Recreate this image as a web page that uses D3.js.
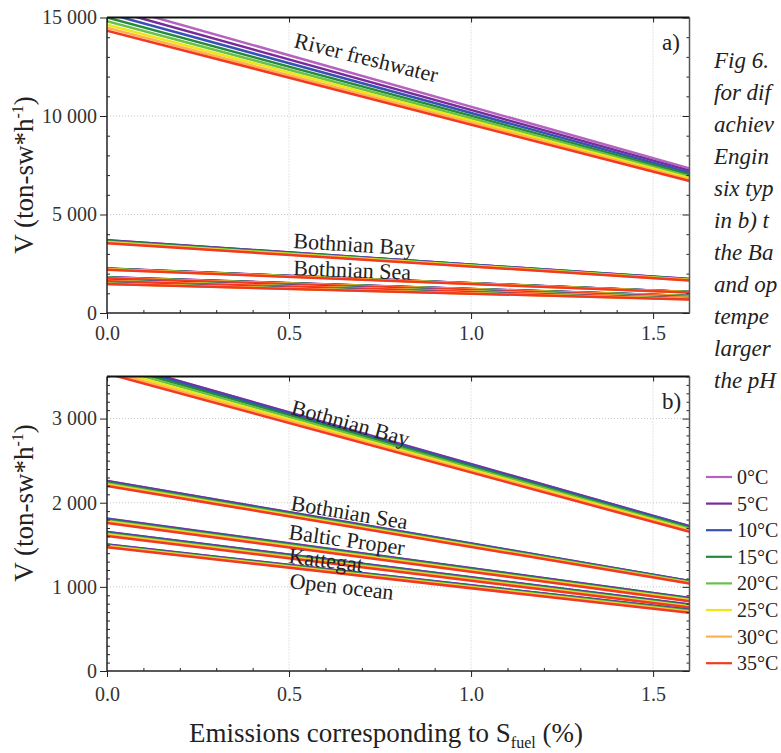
<!DOCTYPE html>
<html>
<head>
<meta charset="utf-8">
<script src="https://cdn.jsdelivr.net/npm/d3@7"></script>
<style>
  html, body { margin: 0; padding: 0; background: #fff; overflow: hidden; }
  svg { display: block; }
  svg text { font-family: "Liberation Serif", "DejaVu Serif", "Times New Roman", serif; }
</style>
</head>
<body>
<svg id="chart" width="781" height="753"></svg>
<script>
// S_fuel (%) at the two ends of every line
const sfuel = [0, 1.6];

const temps = ['0°C', '5°C', '10°C', '15°C', '20°C', '25°C', '30°C', '35°C'];
const tempColors = ['#b463bf', '#782b9b', '#3752b4', '#258a3c', '#69c148', '#eee619', '#ffb14c', '#f23a22'];

// V (ton-sw*h-1) at S_fuel = 0 and 1.6, one pair per temperature (0 -> 35 °C)
const riverFreshwater = [[15690, 7340], [15440, 7225], [15210, 7120], [15000, 7020], [14815, 6930], [14640, 6850], [14480, 6770], [14330, 6700]];
const bothnianBay     = [[3690, 1722], [3688, 1721], [3672, 1714], [3650, 1703], [3622, 1690], [3592, 1677], [3562, 1665], [3535, 1654]];
const bothnianSea     = [[2259, 1071], [2258, 1070], [2250, 1066], [2240, 1061], [2229, 1056], [2218, 1050], [2208, 1045], [2200, 1040]];
const balticProper    = [[1812, 869], [1811, 868], [1804, 863], [1795, 857], [1786, 850], [1777, 843], [1768, 836], [1760, 830]];
const kattegat        = [[1653, 791], [1652, 790], [1646, 785], [1638, 780], [1630, 774], [1622, 767], [1614, 761], [1606, 755]];
const openOcean       = [[1504, 728], [1503, 727], [1498, 723], [1493, 718], [1488, 712], [1482, 705], [1476, 698], [1471, 691]];

const xTicks = [0, 0.5, 1.0, 1.5];
const topYTicks = [0, 5000, 10000, 15000];
const bottomYTicks = [0, 1000, 2000, 3000];

// the figure caption, as much of it as shows at the right edge
const captionLines = ['Fig 6.', 'for dif', 'achiev', 'Engin', 'six typ', 'in b) t', 'the Ba', 'and op', 'tempe', 'larger', 'the pH'];

// ---------------------------------------------------------------

const svg = d3.select('#chart');
const x = d3.scaleLinear().domain([0, 1.6]).range([107, 689.5]);
const fmt = d3.formatLocale({ decimal: '.', thousands: ' ', grouping: [3], currency: ['', ''] }).format(',');

const panels = [
  {
    key: 'a', yMax: 15000, top: 17.5, bottom: 313, yTicks: topYTicks, yMinorStep: 1000, xPad: 13,
    series: [riverFreshwater, bothnianBay, bothnianSea, balticProper, kattegat, openOcean],
    labels: [
      { text: 'River freshwater', x: 293, y: 47, rot: 14 },
      { text: 'Bothnian Bay', x: 293, y: 248, rot: 3.5 },
      { text: 'Bothnian Sea', x: 293, y: 275, rot: 2.3 }
    ],
    titleY: 175
  },
  {
    key: 'b', yMax: 3500, top: 376.5, bottom: 671, yTicks: bottomYTicks, yMinorStep: 100, xPad: 16,
    series: [bothnianBay, bothnianSea, balticProper, kattegat, openOcean],
    labels: [
      { text: 'Bothnian Bay', x: 290, y: 414, rot: 15.5 },
      { text: 'Bothnian Sea', x: 290, y: 510, rot: 9.5 },
      { text: 'Baltic Proper', x: 288, y: 539, rot: 8 },
      { text: 'Kattegat', x: 288, y: 563, rot: 7 },
      { text: 'Open ocean', x: 289, y: 588, rot: 6.5 }
    ],
    titleY: 503
  }
];

panels.forEach(drawPanel);

function drawPanel(p) {
  const y = d3.scaleLinear().domain([0, p.yMax]).range([p.bottom, p.top]);
  const g = svg.append('g');
  const [x0, x1] = x.range();

  // dotted grid
  g.append('g').selectAll('line')
    .data(xTicks.filter(v => v > 0))
    .join('line')
    .attr('x1', d => x(d)).attr('x2', d => x(d))
    .attr('y1', p.top).attr('y2', p.bottom)
    .attr('stroke', '#c8c8c8').attr('stroke-width', 1).attr('stroke-dasharray', '1,2');

  g.append('g').selectAll('line')
    .data(p.yTicks.filter(v => v > 0 && v < p.yMax))
    .join('line')
    .attr('x1', x0).attr('x2', x1)
    .attr('y1', d => y(d)).attr('y2', d => y(d))
    .attr('stroke', '#c8c8c8').attr('stroke-width', 1).attr('stroke-dasharray', '1,2');

  // lines, clipped to the plot area
  const clipId = 'clip-' + p.key;
  svg.append('clipPath').attr('id', clipId)
    .append('rect').attr('x', x0).attr('y', p.top).attr('width', x1 - x0).attr('height', p.bottom - p.top);

  const line = d3.line().x((d, i) => x(sfuel[i])).y(d => y(d));
  const lines = g.append('g').attr('clip-path', `url(#${clipId})`);
  p.series.forEach(values => {
    lines.append('g').selectAll('path')
      .data(values)
      .join('path')
      .attr('d', d => line(d))
      .attr('fill', 'none')
      .attr('stroke', (d, i) => tempColors[i])
      .attr('stroke-width', 2.5);
  });

  // axes
  const yMinor = d3.range(0, p.yMax + 1, p.yMinorStep).filter(v => !p.yTicks.includes(v));
  const xMinor = d3.range(0, 16).map(v => v / 10).filter(v => !xTicks.includes(v));

  g.append('g').attr('transform', `translate(${x0},0)`)
    .call(d3.axisLeft(y).tickValues(p.yTicks).tickFormat(fmt).tickSize(7).tickPadding(3).tickSizeOuter(0));
  g.append('g').attr('transform', `translate(${x0},0)`)
    .call(d3.axisLeft(y).tickValues(yMinor).tickFormat('').tickSize(-3).tickSizeOuter(0));

  g.append('g').attr('transform', `translate(${x1},0)`)
    .call(d3.axisRight(y).tickValues(p.yTicks).tickFormat('').tickSize(-7).tickSizeOuter(0));
  g.append('g').attr('transform', `translate(${x1},0)`)
    .call(d3.axisRight(y).tickValues(yMinor).tickFormat('').tickSize(-3).tickSizeOuter(0));

  g.append('g').attr('transform', `translate(0,${p.bottom})`)
    .call(d3.axisBottom(x).tickValues(xTicks).tickFormat(d3.format('.1f')).tickSize(6).tickPadding(p.xPad - 6).tickSizeOuter(0));
  g.append('g').attr('transform', `translate(0,${p.bottom})`)
    .call(d3.axisBottom(x).tickValues(xMinor).tickFormat('').tickSize(-3).tickSizeOuter(0));

  g.append('g').attr('transform', `translate(0,${p.top})`)
    .call(d3.axisTop(x).tickValues(xTicks).tickFormat('').tickSize(-5).tickSizeOuter(0));

  g.selectAll('.domain').remove();
  g.selectAll('.tick line').attr('stroke', '#222').attr('stroke-width', 1);
  g.selectAll('.tick text').attr('fill', '#333').attr('font-size', 20);

  // frame
  const frame = g.append('g');
  frame.append('line').attr('x1', x0).attr('x2', x1).attr('y1', p.top).attr('y2', p.top)
    .attr('stroke', '#111').attr('stroke-width', 2);
  frame.append('line').attr('x1', x0).attr('x2', x1).attr('y1', p.bottom).attr('y2', p.bottom)
    .attr('stroke', '#222').attr('stroke-width', 1.5);
  frame.append('line').attr('x1', x0).attr('x2', x0).attr('y1', p.top).attr('y2', p.bottom)
    .attr('stroke', '#222').attr('stroke-width', 1.5);
  frame.append('line').attr('x1', x1).attr('x2', x1).attr('y1', p.top).attr('y2', p.bottom)
    .attr('stroke', '#555').attr('stroke-width', 1.5);

  // curve labels
  g.append('g').selectAll('text')
    .data(p.labels)
    .join('text')
    .attr('transform', d => `translate(${d.x},${d.y}) rotate(${d.rot})`)
    .attr('font-size', 22)
    .attr('fill', '#222')
    .text(d => d.text);

  // panel letter
  g.append('text')
    .attr('x', 662).attr('y', p.top + 32)
    .attr('font-size', 23).attr('fill', '#222')
    .text(p.key + ')');

  // y title
  const t = g.append('text')
    .attr('transform', `translate(33,${p.titleY}) rotate(-90)`)
    .attr('text-anchor', 'middle')
    .attr('font-size', 27).attr('fill', '#222');
  t.append('tspan').text('V (ton-sw*h');
  t.append('tspan').attr('font-size', 16).attr('dy', -10).text('-1');
  t.append('tspan').attr('dy', 10).text(')');
}

// x title
const xt = svg.append('text')
  .attr('x', 386).attr('y', 742)
  .attr('text-anchor', 'middle')
  .attr('font-size', 27).attr('fill', '#222');
xt.append('tspan').text('Emissions corresponding to S');
xt.append('tspan').attr('font-size', 16).attr('dy', 6).text('fuel');
xt.append('tspan').attr('dy', -6).text(' (%)');

// legend
const legend = svg.append('g').attr('transform', 'translate(706,477)');
const rows = legend.selectAll('g')
  .data(temps)
  .join('g')
  .attr('transform', (d, i) => `translate(0,${i * 26.6})`);
rows.append('line')
  .attr('x1', 0).attr('x2', 26)
  .attr('stroke', (d, i) => tempColors[i]).attr('stroke-width', 2.2);
rows.append('text')
  .attr('x', 31).attr('y', 7)
  .attr('font-size', 20).attr('fill', '#222')
  .text(d => d);

// caption fragments at the right edge
svg.append('g').selectAll('text')
  .data(captionLines)
  .join('text')
  .attr('x', 714)
  .attr('y', (d, i) => 68 + i * 32)
  .attr('font-size', 23)
  .attr('font-style', 'italic')
  .attr('fill', '#222')
  .text(d => d);
</script>
</body>
</html>
